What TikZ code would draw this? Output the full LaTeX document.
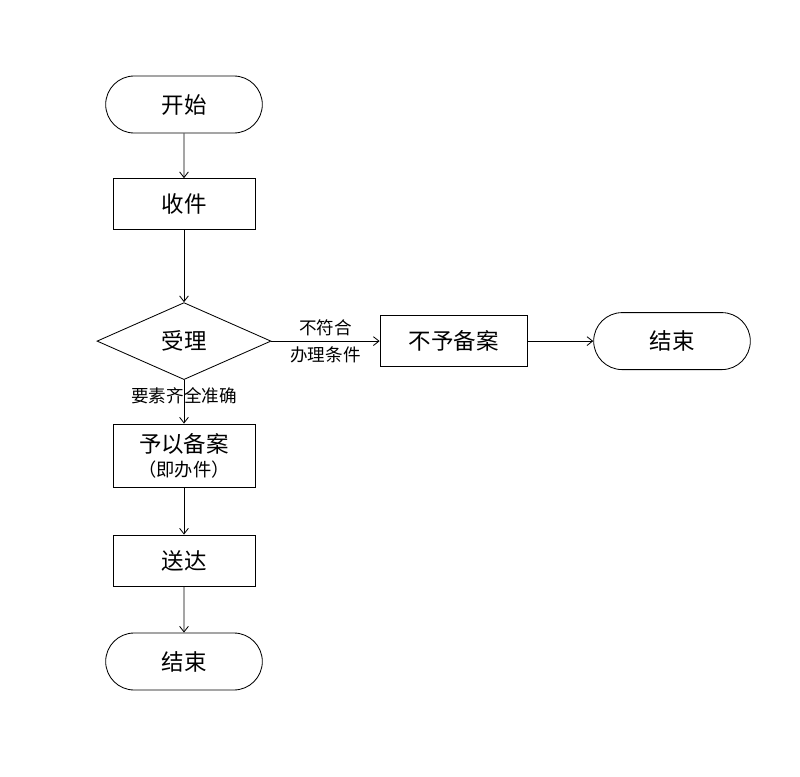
\documentclass[tikz,border=0pt]{standalone}
\usepackage{fontspec}
\setmainfont{Noto Sans CJK SC}
\usetikzlibrary{shapes,arrows.meta,positioning}

\tikzset{
  term/.style={draw, rounded rectangle, minimum width=4.15cm, minimum height=1.425cm, font=\fontsize{16}{19}\selectfont},
  proc/.style={draw, rectangle, minimum width=3.55cm, minimum height=1.275cm, font=\fontsize{16}{19}\selectfont},
  decide/.style={draw, diamond, minimum width=4.35cm, minimum height=1.925cm, inner sep=0pt, font=\fontsize{16}{19}\selectfont},
  lbl/.style={font=\fontsize{12.5}{15}\selectfont}
}

\begin{document}
\begin{tikzpicture}[node distance=2.5cm, >={Straight Barb[length=1.4mm,width=2.2mm]}, line width=0.6pt]
        \useasboundingbox (-4.6,2.6125) rectangle (15.4,-16.8125);

        % Nodes
        \node [term] (start) {开始};
        \node [proc, below of=start, node distance=2.49cm] (receive) {收件};
        \node [decide, below of=receive, node distance=3.425cm] (accept) {受理};
        \node [proc, right of=accept, node distance=6.74cm, minimum width=3.675cm] (reject) {不予备案};
        \node [term, right of=reject, node distance=5.46cm] (endright) {结束};
        \node [proc, below of=accept, node distance=2.86cm, minimum height=1.575cm, align=center] (file) {予以备案\\[-2pt]{\fontsize{13}{15}\selectfont （即办件）}};
        \node [proc, below of=file, node distance=2.625cm] (deliver) {送达};
        \node [term, below of=deliver, node distance=2.525cm] (enddown) {结束};

        % Connections
        \draw [->] (start) -- (receive);
        \draw [->] (receive) -- (accept);
        \draw [->] (accept) -- node[lbl, above] {不符合} node[lbl, below] {办理条件} (reject);
        \draw [->] (reject) -- (endright);
        \draw [->] (accept) -- node[lbl, pos=0.35] {要素齐全准确} (file);
        \draw [->] (file) -- (deliver);
        \draw [->] (deliver) -- (enddown);

    \end{tikzpicture}
\end{document}
